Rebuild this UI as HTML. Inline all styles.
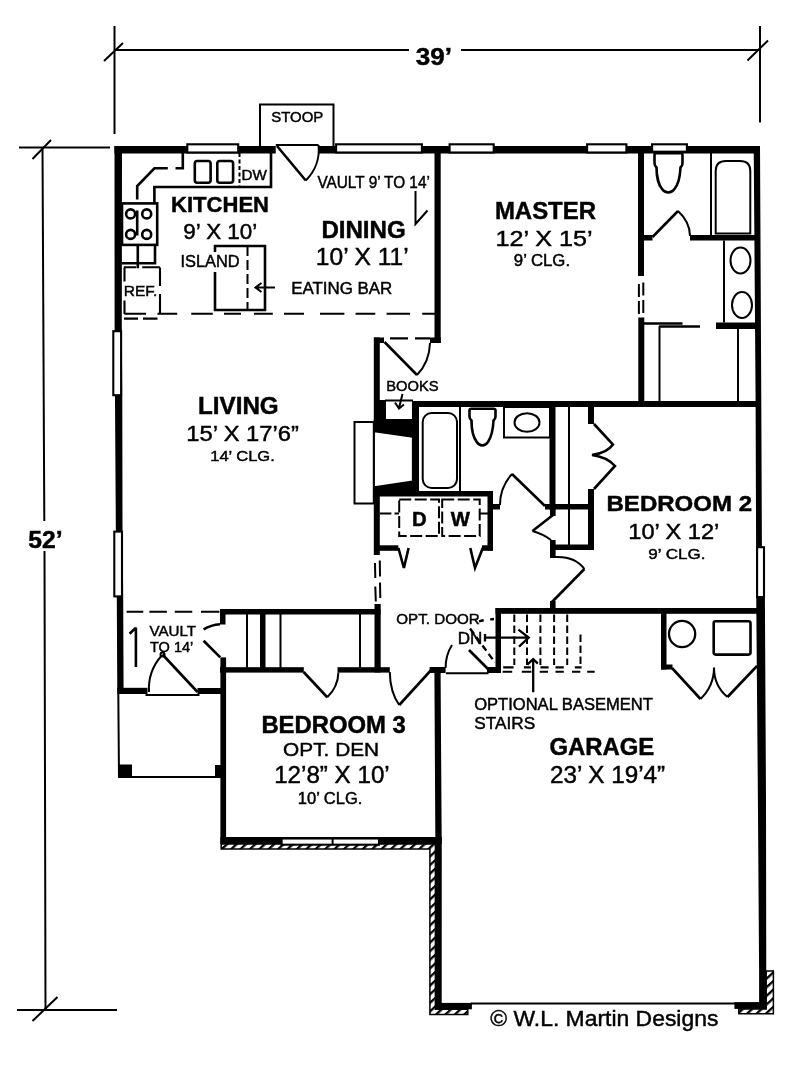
<!DOCTYPE html>
<html><head><meta charset="utf-8"><title>Floor Plan</title>
<style>
html,body{margin:0;padding:0;background:#fff;}
svg{display:block;filter:grayscale(1);}
text{font-family:"Liberation Sans",sans-serif;fill:#000;stroke:#000;stroke-width:0.45;}
.b{font-weight:bold;}
.t{fill:none;stroke:#000;stroke-width:2;}
.m{fill:none;stroke:#000;stroke-width:2.6;}
.w{fill:#000;stroke:none;}
.win{fill:#fff;stroke:#000;stroke-width:2.1;}
.d{fill:none;stroke:#000;stroke-width:2;stroke-dasharray:9 5;}
.ds{fill:none;stroke:#000;stroke-width:2;stroke-dasharray:7.5 3.5;}
</style></head><body>
<svg width="800" height="1079" viewBox="0 0 800 1079">
<defs>
<pattern id="hh" width="6.35" height="6.35" patternUnits="userSpaceOnUse" patternTransform="rotate(-42.5)"><rect width="6.35" height="6.35" fill="#fff"/><rect width="6.35" height="2.3" fill="#000"/></pattern>
</defs>
<rect width="800" height="1079" fill="#fff"/>
<g class="t" id="dims">
<path d="M114.5 50H409M461 50H760"/>
<path d="M114.5 26V134M760 26V122.5"/>
<path d="M104 61L123 43M747.5 60.5L768 40.5" style="stroke-width:2"/>
<path d="M42.5 147.5L44.3 521M44.5 551L45.5 1010"/>
<path d="M19 147.5H110M17 1010H117"/>
<path d="M32.5 159L51 140M32.5 1021L57.5 997" style="stroke-width:2"/>
</g>

<g class="w" id="walls">
<!-- exterior top -->
<rect x="114.5" y="146" width="645.5" height="7.5"/>
<!-- exterior left -->
<polygon points="114.5,146 122,146 121.8,325 122.3,400 122.5,525 123.2,600 123.6,694 117.3,694 116.8,600 115.8,525 115,400 114.6,325"/>
<!-- exterior right -->
<polygon points="753.7,146 760,146 761.3,400 761.9,546 764.9,598 766,800 766.25,970 766.25,1009 759.1,1009 759.1,970 757.9,800 756.25,600 756.1,545 755.6,400"/>
<!-- living front -->
<rect x="117.3" y="687.8" width="30.2" height="6.2"/>
<rect x="197.5" y="688" width="28" height="6"/>
<!-- bedroom 3 left + closet -->
<rect x="220.4" y="657.4" width="5.7" height="186.6"/>
<rect x="220" y="609" width="5.5" height="15.5"/>
<rect x="220" y="609" width="160.5" height="5.5"/>
<rect x="374.5" y="604" width="6.2" height="68.5"/>
<rect x="220" y="667.2" width="83.8" height="5.4"/>
<rect x="337.5" y="667.2" width="52.3" height="5.4"/>
<rect x="260" y="614" width="5.5" height="54"/>
<!-- bedroom 3 bottom -->
<rect x="220.4" y="837" width="221.4" height="7"/>
<!-- garage left -->
<polygon points="434.4,673 440.6,673 441.75,850 441.7,1009.3 435.6,1009.3 435.4,850"/>
<rect x="429.6" y="667" width="16" height="6"/>
<rect x="435.6" y="1002.9" width="36.3" height="6.4"/>
<rect x="734.4" y="1002.1" width="31.8" height="6.8"/>
<!-- master / dining -->
<rect x="434.5" y="152" width="6.2" height="191"/>
<rect x="430" y="337.5" width="10.7" height="5.5"/>
<rect x="412.5" y="401" width="344.5" height="6"/>
<rect x="638" y="152" width="6" height="124"/>
<rect x="638.3" y="317.5" width="6" height="84"/>
<rect x="644" y="235" width="8.5" height="5.5"/>
<rect x="690" y="235" width="65" height="5.5"/>
<rect x="716" y="322.5" width="40" height="6.5"/>
<!-- living / hall -->
<rect x="373.8" y="337.5" width="6" height="85"/>
<rect x="373.8" y="490" width="6" height="65"/>
<rect x="374" y="337.5" width="10" height="5.5"/>
<!-- books + fireplace -->
<rect x="374" y="400" width="12" height="21"/>
<polygon points="373.8,419 412.5,419 412.5,437.75 375.9,432.5 373.8,432.5"/>
<polygon points="373.8,485.9 375.9,485.9 412.5,480.6 412.5,496 373.8,496"/>
<rect x="373.2" y="421" width="1.6" height="70"/>
<rect x="411.9" y="401" width="7.1" height="95"/>
<rect x="374" y="491" width="119" height="5.5"/>
<rect x="487.5" y="491" width="5.5" height="59.5"/>
<rect x="493" y="504" width="7" height="5.5"/>
<rect x="374" y="545.3" width="24.4" height="5.5"/>
<rect x="482" y="545.3" width="11" height="5.5"/>
<!-- hall bath / linen / br2 closet -->
<rect x="549.5" y="407" width="6" height="103"/>
<rect x="545" y="504" width="49" height="5.5"/>
<rect x="588" y="407" width="6" height="17"/>
<rect x="588" y="489" width="6" height="61"/>
<rect x="550" y="544.5" width="44" height="5.5"/>
<rect x="550" y="540" width="5.6" height="18"/>
<rect x="550" y="504" width="5.6" height="12"/>
<rect x="550" y="601" width="5.6" height="8"/>
<!-- garage top / stairs wall -->
<rect x="495.5" y="608" width="262" height="5.8"/>
<rect x="495.5" y="608" width="5.5" height="65"/>
<rect x="487" y="667" width="14" height="6"/>
<rect x="661" y="613" width="5.5" height="56.5"/>
<rect x="661" y="664.5" width="11.5" height="5"/>
<!-- porch posts -->
<rect x="119" y="764.5" width="13" height="13"/>
<rect x="215" y="765" width="8" height="12.5"/>
</g>
<!-- hatching -->
<g id="hatch" fill="url(#hh)" stroke="#000" style="stroke-width:1.5">
<path d="M221.2 844H435.4V1009.3H467.8V1014.6H429.9V849H221.2Z"/>
<path d="M766.2 971H773.4V1013.8H738.8V1008.9H766.2Z"/>
</g>
<!-- windows -->
<g class="win" id="windows">
<rect x="187.3" y="144.3" width="50.9" height="8.2"/>
<rect x="336.1" y="144.3" width="85.8" height="8.2"/>
<rect x="449.6" y="144.3" width="44.1" height="8.2"/>
<rect x="587.1" y="144.3" width="39.3" height="8.2"/>
<rect x="652.1" y="144.3" width="34.8" height="7.4"/>
<rect x="113.3" y="331.2" width="7.8" height="64"/>
<rect x="114.3" y="531.6" width="7.7" height="64.8"/>
<rect x="757.1" y="547.2" width="6.9" height="49.8"/>
<rect x="281.6" y="838.5" width="97.4" height="6.2"/>
</g>
<path class="t" d="M332.6 838.5V844.7"/>
<!-- front door opening at top -->
<rect x="275.75" y="145.5" width="42.75" height="9" fill="#fff"/>
<!-- garage door line -->
<path class="t" d="M471 1003.4H735"/>

<g id="fixtures">
<!-- stoop + entry door -->
<path class="t" d="M260 146V104.5H333.5V146"/>
<path class="t" d="M275.75 145H318.5"/>
<path class="m" d="M277 146L305.75 180.5"/>
<path class="t" d="M318.5 145A43 43 0 0 1 305.75 180.5"/>
<!-- kitchen -->
<path class="m" d="M271 153V187H154.4V203"/>
<rect class="m" x="122" y="203.4" width="35.2" height="41.5" fill="#fff"/>
<path class="m" d="M155 246V263.3H122M137.8 246V268.3"/>
<path class="m" d="M137.2 199.4V186.1L154.4 168.3H167.8M175.5 168.3H182.8V153"/>
<rect class="m" x="194.8" y="161" width="15.8" height="21.7" rx="2.5"/>
<rect class="m" x="217.3" y="161" width="15.8" height="21.7" rx="2.5"/>
<path class="t" d="M239.5 153V186" style="stroke-dasharray:4 2.5"/>
<g class="m"><circle cx="130.6" cy="213.9" r="4.5"/><circle cx="146.7" cy="213.9" r="4.5"/><circle cx="130.6" cy="234.4" r="4.5"/><circle cx="146.7" cy="234.4" r="4.5"/><path d="M137.2 210.5V235.5"/></g>
<path class="t" d="M123.9 267.2H136.1M142.2 267.2H160"/><path class="t" style="stroke-width:2.1" d="M124.5 267.5V281.5M124.5 300.5V314M160 267.5V286M160 294V314"/><path class="t" style="stroke-width:2.1" d="M124 318.6H138M143 318.6H157.5"/>
<path class="m" d="M215 272V310H265V246H215V252"/>
<path class="ds" d="M247.5 246V310" style="stroke-dasharray:10 4"/>
<path class="t" d="M275 287.5H256M261.5 283L255.5 287.5L261.5 292"/>
<path class="t" style="stroke-width:2.1" d="M124.5 313.75H146M157.5 313.75H177.2M191.25 313.75H212.8M224 313.75H241M254 313.75H272.8M284 313.75H304M320 313.75H344.4M355.6 313.75H375.3M386.6 313.75H410M422.2 313.75H435"/>
<!-- dining arrow -->
<path class="t" d="M415.5 191V224L427.5 210.5"/>
<!-- master bath -->
<path class="m" d="M656 153.3H681Q682.5 153.3 682.5 155V163Q682.5 166 680.5 167.5C680 178 677 186 674.5 189Q672 192.5 668.3 192.5Q664.5 192.5 662 189C659.5 186 656.5 178 656.5 167.5Q654.5 166 654.5 163V155Q654.5 153.3 656 153.3Z"/>
<path class="t" d="M711 153V235"/>
<path class="t" d="M715.7 233.5V171Q715.7 161 726 161H740Q750.3 161 750.3 171V233.5Z"/>
<path class="m" d="M652.5 237L678 211"/>
<path class="t" d="M678 211Q690 222 690 236"/>
<path class="t" d="M724 240.5V322.5"/>
<ellipse class="t" cx="740.5" cy="260.5" rx="10" ry="13"/>
<ellipse class="t" cx="742" cy="305" rx="10" ry="13"/>
<path class="m" d="M644 323.5H682.5M659 326.5H700"/>
<path class="t" d="M659.5 326V401M738 329V401"/>
<path class="t" d="M638.9 284V297M638.9 301V314M643.3 282.5V295.5M643.3 300V313"/>
<!-- dining/hall door -->
<path class="t" style="stroke-width:2.1" d="M390 338.4H408M415 338.4H430"/>
<path class="m" d="M384.5 342L417 375"/>
<path class="t" d="M430 343Q429.5 362 417 375"/>
<!-- books -->
<rect x="386" y="401" width="25.5" height="18" fill="#fff"/>
<path class="t" d="M385 400.5H413"/>
<path class="t" d="M402.5 394L399 408M395 402.5L399 408.5L404 404.5"/>
<!-- hearth -->
<rect class="t" x="354.5" y="422" width="19.3" height="81.5"/>
<!-- hall bath -->
<path class="t" d="M460 407V491"/>
<rect class="t" x="422.7" y="413" width="34.3" height="75" rx="9"/>
<path class="m" d="M471.5 408.7H493.5Q495.5 408.7 495.5 410.5V416.5Q495.5 419 493.5 420.5C493 431 490 439 488 442Q485.5 445.5 482.3 445.5Q479 445.5 476.8 442C474.5 439 471.5 431 471.5 420.5Q469.5 419 469.5 416.5V410.5Q469.5 408.7 471.5 408.7Z"/>
<rect class="t" x="504" y="407" width="46" height="30.5"/>
<ellipse class="t" cx="527" cy="422.5" rx="12.5" ry="9.3"/>
<path class="m" d="M545 506L512 474"/>
<path class="t" d="M512 474Q500 487 500 505"/>
<!-- laundry -->
<path class="ds" style="stroke-dasharray:12 3.5" d="M399.2 499.6H439V536H399.2ZM442.2 499.6H479.7V536H442.2Z"/>
<path class="t" style="stroke-width:2.1" d="M380 513.5H391.4M394.5 513.5H399M479.7 513.5H488"/>
<path class="m" d="M398.4 548L403.9 568L408.6 548M470.3 548L475 568L482.8 548"/>
<path class="t" d="M375 563L375.3 578M375.3 586.5L375.8 601.5M379.8 560.6L380 576.4M380 582.4L380.3 598"/>
<!-- br2 closet -->
<path class="t" d="M569 407V545"/>
<path class="m" d="M594 424L613 444.5Q607 453 592 455Q607 457 615 466L594 489"/>
<!-- linen door -->
<path class="m" d="M553 515L532.5 531"/>
<path class="t" d="M532.5 531Q543 534 551 540"/>
<!-- br2 door -->
<path class="t" d="M555 557Q575 556 584.4 569"/>
<path class="m" d="M584.4 569L552 602"/>
<!-- stairs -->
<path class="ds" style="stroke-dasharray:7.5 3.5" d="M514.3 614.4V665M527 614.4V665M540.4 614.4V665M554.1 614.4V665M567.2 614.4V665M580.5 634.4V665"/>
<path class="t" style="stroke-width:2.1" d="M503.2 667.4H513.6M523.9 667.4H530.8M540.4 667.4H548.6M555.5 667.4H563.8M574.8 667.4H581.6M502.6 671.8H512.2M521.8 671.8H531.4M539.7 671.8H548M555.5 671.8H563.8M572 671.8H580.3M587.2 671.8H594.7"/>
<path class="m" style="stroke-width:2.3" d="M485 637.6H528.5M518.4 629.6L528.7 637.5L519 646.6M485 634V641.5"/>
<path class="m" style="stroke-width:2.3" d="M533.2 692.2V659.5M527.3 664.6L533.2 659L537.8 663.6"/>
<!-- garage closet -->
<circle class="m" cx="682.1" cy="634" r="13.1" style="stroke-width:2.3"/>
<rect class="m" x="713.7" y="621.2" width="36.8" height="33.4" rx="2"/>
<path class="m" d="M672 668L700.5 699M757 666L727.5 697"/>
<path class="t" d="M700.5 699Q714 686 714 667.5M727.5 697Q714 686 714 667.5"/>
<!-- garage/hall door -->
<path class="t" d="M446 673.3H488.5"/>
<path class="t" d="M445.6 668Q445.6 655 452 645"/>
<path class="m" d="M469 650L488 669"/>
<path class="ds" d="M470 628.5L495 662.5" style="stroke-dasharray:6.5 4;stroke-width:2.4"/>
<path class="ds" d="M479 621.3Q486 619.5 494 619" style="stroke-dasharray:5 6.5;stroke-width:2.4"/>
<!-- br3 doors -->
<path class="m" d="M303.6 672L327.25 697.25"/>
<path class="t" d="M338.4 672.5Q338 687 327.25 697.25"/>
<path class="t" d="M389.8 672Q390 692 399.25 705"/>
<path class="m" d="M399.25 705L433 668"/>
<path class="t" d="M247 614V668M280.5 614V668M360 614V668"/>
<!-- living front door + porch -->
<path class="t" d="M145.5 695H199.5"/>
<path class="m" d="M197.5 692L162.5 654.5"/>
<circle class="t" cx="162.5" cy="654.5" r="2" fill="#fff"/>
<path class="t" d="M149 692A50 50 0 0 1 161.3 656"/>
<path class="t" d="M118.3 694L119 777H223"/>
<path class="m" d="M203.6 640.75L220.25 657.4"/>
<path class="m" d="M203.6 629.4Q211 625 220 624.3"/>
<path class="m" d="M135.9 627.6V667M129.6 633.75L135.9 627.6"/>
<path class="t" style="stroke-width:2.1" d="M126.6 611.8H143.25M149.4 611.8H166.9M174.75 611.8H192.25M201 611.8H219.4"/>
</g>

<g id="text">
<text x="415.8" y="65" font-size="24.5" textLength="36.2" lengthAdjust="spacingAndGlyphs" class="b">39’</text>
<text x="28.3" y="548" font-size="23.5" textLength="34.3" lengthAdjust="spacingAndGlyphs" class="b">52’</text>
<text x="271.3" y="122" font-size="15" textLength="52.0" lengthAdjust="spacingAndGlyphs">STOOP</text>
<text x="241.5" y="179.5" font-size="14.8" textLength="25.3" lengthAdjust="spacingAndGlyphs">DW</text>
<text x="317.4" y="188" font-size="15.8" textLength="112.5" lengthAdjust="spacingAndGlyphs">VAULT 9’ TO 14’</text>
<text x="171.1" y="212" font-size="22.6" textLength="97.9" lengthAdjust="spacingAndGlyphs" class="b">KITCHEN</text>
<text x="183.3" y="238.7" font-size="22.2" textLength="73.9" lengthAdjust="spacingAndGlyphs">9’ X 10’</text>
<text x="180.5" y="267" font-size="15.8" textLength="59.2" lengthAdjust="spacingAndGlyphs">ISLAND</text>
<text x="123.8" y="296" font-size="15" textLength="33.6" lengthAdjust="spacingAndGlyphs">REF.</text>
<text x="291.2" y="294" font-size="16" textLength="101.1" lengthAdjust="spacingAndGlyphs">EATING BAR</text>
<text x="321.4" y="237.5" font-size="24.2" textLength="84.3" lengthAdjust="spacingAndGlyphs" class="b">DINING</text>
<text x="315.8" y="264.7" font-size="24.0" textLength="92.9" lengthAdjust="spacingAndGlyphs">10’ X 11’</text>
<text x="494.9" y="218.8" font-size="24.2" textLength="101.1" lengthAdjust="spacingAndGlyphs" class="b">MASTER</text>
<text x="495.5" y="246.2" font-size="22.8" textLength="97.0" lengthAdjust="spacingAndGlyphs">12’ X 15’</text>
<text x="513.8" y="266.4" font-size="15.6" textLength="56.3" lengthAdjust="spacingAndGlyphs">9’ CLG.</text>
<text x="386.3" y="390.5" font-size="14.8" textLength="52.4" lengthAdjust="spacingAndGlyphs">BOOKS</text>
<text x="198.0" y="413.6" font-size="23.1" textLength="80.7" lengthAdjust="spacingAndGlyphs" class="b">LIVING</text>
<text x="186.3" y="441.2" font-size="22.4" textLength="112.5" lengthAdjust="spacingAndGlyphs">15’ X 17’6”</text>
<text x="210.2" y="460.7" font-size="15.2" textLength="64.6" lengthAdjust="spacingAndGlyphs">14’ CLG.</text>
<text x="411.9" y="525.8" font-size="20.3" class="b">D</text>
<text x="450.8" y="525.8" font-size="20.3" class="b">W</text>
<text x="606.5" y="511" font-size="21.8" textLength="145.6" lengthAdjust="spacingAndGlyphs" class="b">BEDROOM 2</text>
<text x="628.3" y="539.3" font-size="22.0" textLength="91.0" lengthAdjust="spacingAndGlyphs">10’ X 12’</text>
<text x="648.3" y="559.4" font-size="15.0" textLength="57.1" lengthAdjust="spacingAndGlyphs">9’ CLG.</text>
<text x="149.5" y="636.3" font-size="15" textLength="46.6" lengthAdjust="spacingAndGlyphs">VAULT</text>
<text x="150.0" y="652.2" font-size="15" textLength="43.3" lengthAdjust="spacingAndGlyphs">TO 14’</text>
<text x="396.3" y="624" font-size="15.2" textLength="83.4" lengthAdjust="spacingAndGlyphs">OPT. DOOR</text>
<text x="457.7" y="644.4" font-size="15.6" textLength="24.6" lengthAdjust="spacingAndGlyphs">DN</text>
<text x="474.2" y="709.5" font-size="16" textLength="178.7" lengthAdjust="spacingAndGlyphs">OPTIONAL BASEMENT</text>
<text x="474.3" y="728.9" font-size="16" textLength="61.0" lengthAdjust="spacingAndGlyphs">STAIRS</text>
<text x="549.5" y="755.4" font-size="23.0" textLength="104.8" lengthAdjust="spacingAndGlyphs" class="b">GARAGE</text>
<text x="550.0" y="783" font-size="23.2" textLength="115.1" lengthAdjust="spacingAndGlyphs">23’ X 19’4”</text>
<text x="261.4" y="732.6" font-size="23.2" textLength="144.4" lengthAdjust="spacingAndGlyphs" class="b">BEDROOM 3</text>
<text x="283.1" y="756" font-size="19.2" textLength="96.0" lengthAdjust="spacingAndGlyphs">OPT. DEN</text>
<text x="274.2" y="783" font-size="23.2" textLength="115.5" lengthAdjust="spacingAndGlyphs">12’8” X 10’</text>
<text x="297.8" y="804" font-size="15.8" textLength="64.6" lengthAdjust="spacingAndGlyphs">10’ CLG.</text>
<text x="490.2" y="1026" font-size="22.8" textLength="228.2" lengthAdjust="spacingAndGlyphs" stroke-width="0.15">© W.L. Martin Designs</text>
</g>

</svg>
</body></html>
